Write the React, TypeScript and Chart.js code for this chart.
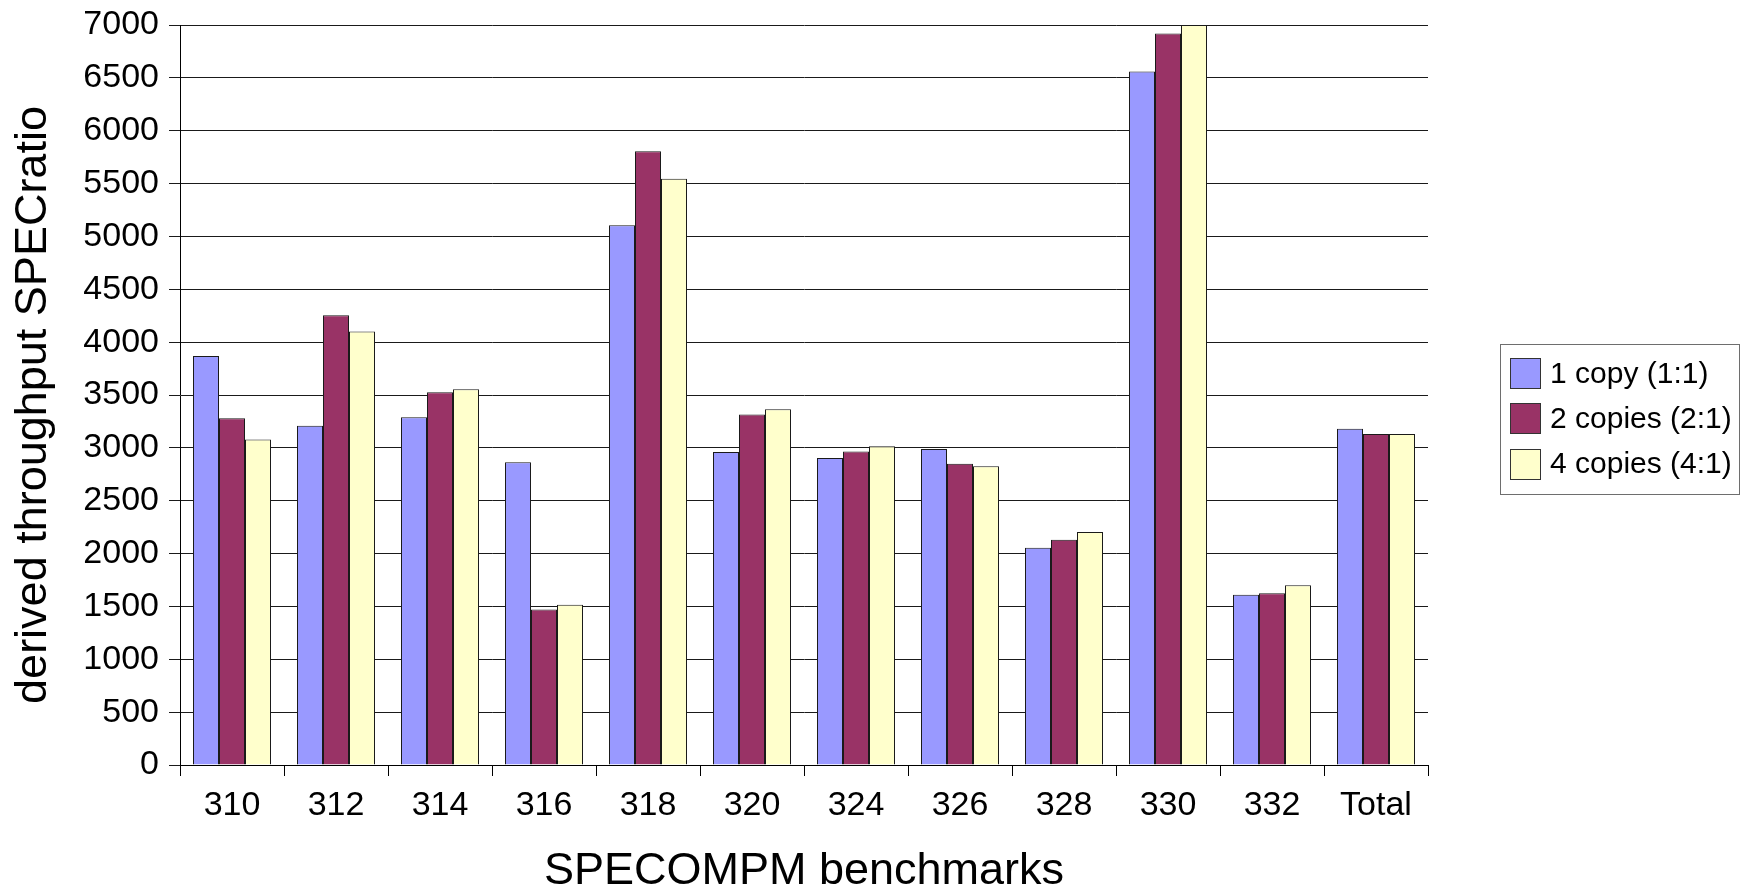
import { useEffect, useRef } from 'react';
import { Chart, registerables } from 'chart.js';

Chart.register(...registerables);

// SPECOMPM benchmark results: derived throughput SPECratio per copy configuration
const categories = ['310', '312', '314', '316', '318', '320', '324', '326', '328', '330', '332', 'Total'];
const oneCopy = [3870, 3210, 3290, 2865, 5105, 2960, 2905, 2990, 2055, 6560, 1610, 3180];
const twoCopies = [3280, 4255, 3525, 1470, 5805, 3315, 2965, 2850, 2130, 6920, 1625, 3130];
const fourCopies = [3080, 4100, 3555, 1515, 5545, 3365, 3015, 2825, 2205, 7000, 1700, 3130];

const seriesLabels = ['1 copy (1:1)', '2 copies (2:1)', '4 copies (4:1)'];
const seriesColors = ['#9999FF', '#993366', '#FFFFCC'];

const yMin = 0;
const yMax = 7000;
const yStep = 500;

const xTitle = 'SPECOMPM benchmarks';
const yTitle = 'derived throughput SPECratio';

const FONT = '"Liberation Sans", Arial, Helvetica, sans-serif';

// Vertical axis title, placed a little below the plot's mid-height
const yAxisTitle = {
  id: 'yAxisTitle',
  afterDraw(chart: any) {
    const ctx = chart.ctx as CanvasRenderingContext2D;
    ctx.save();
    ctx.translate(46, 405);
    ctx.rotate(-Math.PI / 2);
    ctx.font = `45px ${FONT}`;
    ctx.fillStyle = '#000000';
    ctx.textAlign = 'center';
    ctx.textBaseline = 'alphabetic';
    ctx.fillText(yTitle, 0, 0);
    ctx.restore();
  },
};

// Boxed legend on the right, drawn from the dataset labels and colours
const boxLegend = {
  id: 'boxLegend',
  afterDraw(chart: any) {
    const ctx = chart.ctx as CanvasRenderingContext2D;
    const left = 1500.5;
    const top = 344.5;
    const width = 239;
    const height = 150;
    const rowGap = 45.25;
    const firstRow = 373.5;
    const swatch = 31;
    ctx.save();
    ctx.fillStyle = '#ffffff';
    ctx.fillRect(left, top, width, height);
    ctx.strokeStyle = '#6e6e6e';
    ctx.lineWidth = 1;
    ctx.strokeRect(left, top, width, height);
    ctx.font = `30px ${FONT}`;
    ctx.textBaseline = 'middle';
    ctx.textAlign = 'left';
    chart.data.datasets.forEach((ds: any, i: number) => {
      const cy = firstRow + i * rowGap;
      ctx.fillStyle = ds.backgroundColor;
      ctx.fillRect(1510, Math.round(cy - swatch / 2), swatch, swatch);
      ctx.strokeStyle = '#333333';
      ctx.strokeRect(1510.5, Math.round(cy - swatch / 2) + 0.5, swatch - 1, swatch - 1);
      ctx.fillStyle = '#000000';
      ctx.fillText(ds.label, 1550, cy + 1);
    });
    ctx.restore();
  },
};

export default function App() {
  const canvasRef = useRef<HTMLCanvasElement | null>(null);

  useEffect(() => {
    document.body.style.margin = '0';
    const canvas = canvasRef.current;
    if (!canvas) return;
    const series = [oneCopy, twoCopies, fourCopies];
    const chart = new Chart(canvas, {
      type: 'bar',
      data: {
        labels: categories,
        datasets: series.map((values, i) => ({
          label: seriesLabels[i],
          data: values,
          backgroundColor: seriesColors[i],
          borderColor: '#1a1a1a',
          borderWidth: 1,
          categoryPercentage: 0.75,
          barPercentage: 1.0,
        })),
      },
      options: {
        animation: false,
        responsive: false,
        devicePixelRatio: 1,
        layout: { padding: { left: 0, right: 312, top: 25, bottom: 0 } },
        plugins: {
          legend: { display: false },
          tooltip: { enabled: false },
          title: { display: false },
        },
        scales: {
          x: {
            offset: true,
            grid: {
              offset: true,
              drawOnChartArea: false,
              drawTicks: true,
              tickLength: 11,
              color: (c: any) => (c.index >= categories.length ? 'rgba(0,0,0,0)' : '#000000'),
              lineWidth: 1,
            },
            border: { display: true, color: '#000000', width: 1 },
            ticks: {
              color: '#000000',
              font: { family: FONT, size: 34 },
              padding: 9,
              maxRotation: 0,
              autoSkip: false,
            },
            title: {
              display: true,
              text: xTitle,
              color: '#000000',
              font: { family: FONT, size: 45, lineHeight: 1 },
              padding: { top: 0, bottom: -3 },
            },
            afterFit(scale: any) {
              scale.height = 126;
            },
          },
          y: {
            min: yMin,
            max: yMax,
            grid: {
              color: '#1a1a1a',
              lineWidth: 1,
              drawTicks: true,
              tickLength: 11,
            },
            border: { display: true, color: '#000000', width: 1 },
            ticks: {
              stepSize: yStep,
              color: '#000000',
              font: { family: FONT, size: 34, lineHeight: 0.8 },
              padding: 10,
              callback: (v: any) => String(v),
            },
            title: { display: false },
            afterFit(scale: any) {
              scale.width = 180;
            },
          },
        },
      },
      plugins: [yAxisTitle, boxLegend],
    });
    return () => chart.destroy();
  }, []);

  return (
    <div style={{ position: 'absolute', left: 0, top: 0, width: 1740, height: 891, background: '#ffffff' }}>
      <canvas ref={canvasRef} width={1740} height={891} style={{ display: 'block', width: 1740, height: 891 }} />
    </div>
  );
}
